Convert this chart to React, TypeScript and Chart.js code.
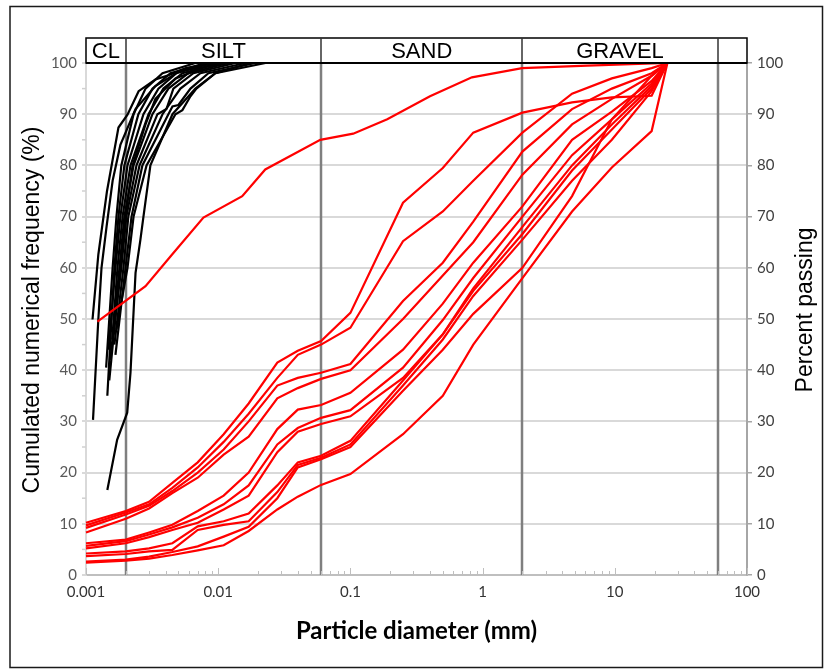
import React, { useEffect, useRef } from 'react';
import { Chart, registerables } from 'chart.js';

Chart.register(...registerables);

// ---------- axis / zone data ----------
const xTickLabels = ['0.001', '0.01', '0.1', '1', '10', '100'];
const yTickValues = [0, 10, 20, 30, 40, 50, 60, 70, 80, 90, 100];
const zoneBounds = [0.001, 0.002, 0.06, 2, 60, 100];
const zoneNames = ['CL', 'SILT', 'SAND', 'GRAVEL', ''];

// ---------- red grading curves (percent passing) ----------
const redDiameters = [0.001, 0.002, 0.003, 0.0045, 0.007, 0.011, 0.017, 0.028, 0.04, 0.06, 0.1, 0.25, 0.5, 0.85, 2, 4.75, 9.5, 19, 25];
const red1 = [10.2, 12.5, 14.3, 18, 22, 27.5, 33.5, 41.5, 43.8, 45.7, 51.2, 72.7, 79.5, 86.4, 90.3, 92.3, 93.3, 93.6, 100];
const red2 = [9.7, 12.2, 13.8, 17, 21, 26, 31.5, 38.5, 43, 45, 48.3, 65.2, 71, 77, 86.4, 94, 97, 99, 100];
const red3 = [9.2, 11.8, 13.5, 16.4, 20, 24.5, 30, 37, 38.5, 39.5, 41.2, 53.5, 61, 69, 82.7, 91, 95, 98, 100];
const red4 = [8.3, 11, 13, 16, 19, 23.5, 27, 34.5, 36.5, 38.3, 40, 50, 58.5, 65, 78.2, 88, 93, 97.5, 100];
const red5 = [6.2, 6.9, 8.3, 9.8, 12.5, 15.5, 20, 28.5, 32.3, 33.2, 35.6, 44, 53, 61, 72, 85, 90.5, 96.5, 100];
const red6 = [5.7, 6.6, 7.9, 9.3, 11.2, 13.8, 17.5, 25.5, 28.7, 30.7, 32.2, 40.5, 49.8, 58, 70, 82, 89, 96, 100];
const red7 = [5.2, 6.2, 7.4, 8.8, 10.2, 12.8, 15.5, 24, 28, 29.5, 31, 38.5, 47, 56, 68, 80, 88, 95.5, 100];
const red8 = [4.2, 4.6, 5.2, 6.2, 9.5, 10.5, 12.0, 17.5, 22.0, 23.3, 26.2, 38, 47, 55.5, 66.6, 79, 87, 95, 100];
const red9 = [3.7, 4.1, 4.6, 4.9, 8.8, 9.8, 10.5, 16.2, 21.5, 22.9, 25.5, 37, 46, 54.5, 65.5, 77, 85, 94.5, 100];
const red10 = [2.6, 3.0, 3.6, 4.5, 5.6, 7.5, 9.4, 15.0, 21.0, 22.6, 25, 36, 44, 51, 60, 74, 89, 97.5, 100];
const red11 = [2.4, 2.8, 3.2, 3.9, 4.8, 5.8, 8.6, 12.8, 15.3, 17.6, 19.7, 27.5, 35, 45, 58, 71, 79.6, 86.7, 100];

const redTopDiameters = [0.00122, 0.00282, 0.00448, 0.00773, 0.0152, 0.0227, 0.0592, 0.105, 0.19, 0.40, 0.83, 1.99, 6.2, 25];
const redTopValues = [49.5, 56.4, 62.6, 69.8, 74, 79.2, 85, 86.2, 89, 93.5, 97.2, 99, 99.5, 100];

// ---------- black curves (cumulated numerical frequency) ----------
const black1D = [0.00112, 0.00124, 0.00144, 0.00176, 0.00206, 0.0025, 0.00335, 0.0042, 0.0057, 0.0095];
const black1V = [49.9, 62.6, 74.9, 87.4, 89.9, 94.5, 96.8, 97.6, 99, 100];
const black2D = [0.00113, 0.00124, 0.00131, 0.00143, 0.00159, 0.00182, 0.00237, 0.00335, 0.00518, 0.0124];
const black2V = [30.3, 50, 60, 68, 77, 84, 91, 95.5, 98.5, 100];
const black3D = [0.00142, 0.00159, 0.0017, 0.00185, 0.00229, 0.00282, 0.00379, 0.00672];
const black3V = [40.5, 60, 70, 80, 90, 95, 98, 100];
const black4D = [0.00145, 0.00164, 0.00176, 0.00195, 0.00249, 0.00318, 0.00435, 0.008];
const black4V = [35, 60, 70, 80, 90, 95, 98, 100];
const black5D = [0.00148, 0.00167, 0.00182, 0.00206, 0.00272, 0.00353, 0.00483, 0.00904];
const black5V = [44, 60, 70, 80, 90, 95, 98, 100];
const black6D = [0.00158, 0.00173, 0.00189, 0.00217, 0.00297, 0.00385, 0.00536, 0.0104];
const black6V = [46, 60, 70, 80, 90, 95, 98, 100];
const black7D = [0.00153, 0.00179, 0.00195, 0.00229, 0.00318, 0.0042, 0.00595, 0.0119];
const black7V = [42, 60, 70, 80, 90, 95, 98, 100];
const black8D = [0.00161, 0.00185, 0.00202, 0.00241, 0.00347, 0.00406, 0.00458, 0.00649, 0.0135];
const black8V = [47, 60, 70, 80, 90, 91, 95, 98, 100];
const black9D = [0.00164, 0.00192, 0.00209, 0.00254, 0.00379, 0.00518, 0.00734, 0.0161];
const black9V = [45, 60, 70, 80, 90, 95, 98, 100];
const black10D = [0.00167, 0.00199, 0.00221, 0.00267, 0.0042, 0.00451, 0.005, 0.00617, 0.00843, 0.0191];
const black10V = [43, 60, 70, 80, 90, 91.5, 91.8, 95, 98, 100];
const black11D = [0.0017, 0.00206, 0.00229, 0.00287, 0.00475, 0.00536, 0.00617, 0.00684, 0.00952, 0.0228];
const black11V = [48, 60, 70, 80, 90, 90.8, 93.5, 95, 98, 100];
const black12D = [0.00145, 0.00172, 0.00205, 0.00217, 0.00237, 0.00258, 0.00272, 0.00307, 0.00451, 0.00672, 0.00952, 0.0175];
const black12V = [16.6, 26.4, 31.7, 39.5, 59, 65.5, 70, 80, 90, 95, 98, 100];
const black13D = [0.0015, 0.00182, 0.00199, 0.00225, 0.00282, 0.00335, 0.00475, 0.00952];
const black13V = [38, 60, 70, 80, 88, 93, 97, 100];

const redCurves = [red1, red2, red3, red4, red5, red6, red7, red8, red9, red10, red11];
const blackCurves = [
  [black1D, black1V], [black2D, black2V], [black3D, black3V], [black4D, black4V],
  [black5D, black5V], [black6D, black6V], [black7D, black7V], [black8D, black8V],
  [black9D, black9V], [black10D, black10V], [black11D, black11V], [black12D, black12V],
  [black13D, black13V],
];

const leftTitle = 'Cumulated numerical frequency (%)';
const rightTitle = 'Percent passing';
const xTitle = 'Particle diameter (mm)';

function line(ctx: CanvasRenderingContext2D, x1: number, y1: number, x2: number, y2: number) {
  ctx.beginPath();
  ctx.moveTo(x1, y1);
  ctx.lineTo(x2, y2);
  ctx.stroke();
}

const decorPlugin = {
  id: 'decor',
  beforeDatasetsDraw(chart: any) {
    const { ctx, chartArea, scales } = chart;
    const x = scales.x;
    const y = scales.y;
    ctx.save();
    // zone boundary lines
    ctx.strokeStyle = '#7f7f7f';
    ctx.lineWidth = 2.5;
    zoneBounds.slice(1, 5).forEach((d) => {
      const px = Math.round(x.getPixelForValue(d));
      line(ctx, px, chartArea.top, px, chartArea.bottom);
    });
    // minor ticks on x axis (inside)
    ctx.strokeStyle = '#bfbfbf';
    ctx.lineWidth = 1;
    for (let k = -3; k <= 2; k++) {
      for (let m = 1; m <= 9; m++) {
        const v = m * Math.pow(10, k);
        if (v > 100.0001) break;
        const px = Math.round(x.getPixelForValue(v)) + 0.5;
        const len = m === 1 ? 7 : 4;
        line(ctx, px, chartArea.bottom, px, chartArea.bottom - len);
      }
    }
    // minor ticks on left axis (outside) at 5s
    ctx.strokeStyle = '#d0d0d0';
    ctx.lineWidth = 1.5;
    for (let v = 5; v < 100; v += 10) {
      const py = y.getPixelForValue(v);
      line(ctx, chartArea.left - 4, py, chartArea.left, py);
    }
    ctx.restore();
  },
  afterDraw(chart: any) {
    const { ctx, chartArea, scales } = chart;
    const x = scales.x;
    const headTop = chartArea.top - 25;
    ctx.save();
    // header band
    ctx.strokeStyle = '#000';
    ctx.lineWidth = 1.5;
    ctx.strokeRect(chartArea.left, headTop, chartArea.right - chartArea.left, chartArea.top - headTop);
    ctx.strokeStyle = '#333';
    zoneBounds.slice(1, 5).forEach((d) => {
      const px = Math.round(x.getPixelForValue(d));
      line(ctx, px, headTop, px, chartArea.top);
    });
    ctx.strokeStyle = '#000';
    ctx.lineWidth = 2;
    line(ctx, chartArea.left, chartArea.top, chartArea.right, chartArea.top);
    ctx.fillStyle = '#000';
    ctx.font = '22px "Liberation Sans", Arial, sans-serif';
    ctx.textAlign = 'center';
    ctx.textBaseline = 'alphabetic';
    zoneNames.forEach((name, i) => {
      if (!name) return;
      const cx = (x.getPixelForValue(zoneBounds[i]) + x.getPixelForValue(zoneBounds[i + 1])) / 2;
      ctx.fillText(name, cx, chartArea.top - 5);
    });
    // axis titles
    const midY = (chartArea.top + chartArea.bottom) / 2 - 9;
    ctx.font = '23px "Liberation Sans", Arial, sans-serif';
    ctx.textBaseline = 'middle';
    ctx.save();
    ctx.translate(33, midY);
    ctx.rotate(-Math.PI / 2);
    ctx.fillText(leftTitle, 0, 0);
    ctx.restore();
    ctx.save();
    ctx.translate(chartArea.right + 59, midY);
    ctx.rotate(-Math.PI / 2);
    ctx.fillText(rightTitle, 0, 0);
    ctx.restore();
    ctx.font = 'bold 24px Lato, sans-serif';
    ctx.fillText(xTitle, (chartArea.left + chartArea.right) / 2, chartArea.bottom + 56);
    // outer frame
    ctx.strokeStyle = '#1a1a1a';
    ctx.lineWidth = 1.5;
    ctx.strokeRect(10, 6.5, 812.5, 661);
    ctx.restore();
  },
};

export default function App() {
  const canvasRef = useRef<HTMLCanvasElement | null>(null);

  useEffect(() => {
    document.body.style.margin = '0';
    const canvas = canvasRef.current;
    if (!canvas) return;

    const lineStyle = { pointRadius: 0, borderWidth: 2.2, fill: false, tension: 0, clip: false, yAxisID: 'y' };
    const datasets: any[] = [];
    redCurves.forEach((vals) => {
      datasets.push({ ...lineStyle, borderColor: '#ff0000', data: redDiameters.map((d, i) => ({ x: d, y: vals[i] })) });
    });
    datasets.push({ ...lineStyle, borderColor: '#ff0000', data: redTopDiameters.map((d, i) => ({ x: d, y: redTopValues[i] })) });
    blackCurves.forEach(([ds, vs]) => {
      datasets.push({ ...lineStyle, borderColor: '#000000', data: ds.map((d, i) => ({ x: d, y: vs[i] })) });
    });

    const tickFont = { family: 'Lato, sans-serif', size: 15 };

    const chart = new Chart(canvas, {
      type: 'line',
      data: { datasets },
      options: {
        responsive: false,
        animation: false,
        layout: { padding: { top: 63, left: 0, right: 0, bottom: 0 } },
        plugins: { legend: { display: false }, tooltip: { enabled: false } },
        scales: {
          x: {
            type: 'logarithmic',
            min: 0.001,
            max: 100,
            afterBuildTicks: (s: any) => {
              s.ticks = xTickLabels.map((t) => ({ value: Number(t) }));
            },
            afterFit: (s: any) => {
              s.height = 97;
            },
            ticks: {
              autoSkip: false,
              maxRotation: 0,
              color: '#333333',
              font: tickFont,
              padding: 8,
              callback: (v: any) => {
                const t = xTickLabels.find((l) => Math.abs(Math.log10(Number(l)) - Math.log10(Number(v))) < 1e-6);
                return t ?? '';
              },
            },
            grid: { display: false, drawTicks: false },
            border: { color: '#bfbfbf', width: 2 },
          },
          y: {
            type: 'linear',
            position: 'left',
            min: 0,
            max: 100,
            afterBuildTicks: (s: any) => {
              s.ticks = yTickValues.map((v) => ({ value: v }));
            },
            afterFit: (s: any) => {
              s.width = 86;
            },
            ticks: { color: '#595959', font: tickFont, padding: 5 },
            grid: { color: '#d9d9d9', lineWidth: 2, tickLength: 4 },
            border: { color: '#d9d9d9', width: 2 },
          },
          y2: {
            type: 'linear',
            position: 'right',
            min: 0,
            max: 100,
            afterBuildTicks: (s: any) => {
              s.ticks = yTickValues.map((v) => ({ value: v }));
            },
            afterFit: (s: any) => {
              s.width = 82;
            },
            ticks: { color: '#404040', font: tickFont, padding: 5 },
            grid: { drawOnChartArea: false, color: '#a6a6a6', lineWidth: 1.5, tickLength: 5 },
            border: { color: '#a6a6a6', width: 2 },
          },
        },
      },
      plugins: [decorPlugin],
    } as any);

    return () => chart.destroy();
  }, []);

  return (
    <div style={{ width: 829, height: 672, position: 'relative', background: '#fff' }}>
      <canvas ref={canvasRef} width={829} height={672} style={{ display: 'block' }} />
    </div>
  );
}
